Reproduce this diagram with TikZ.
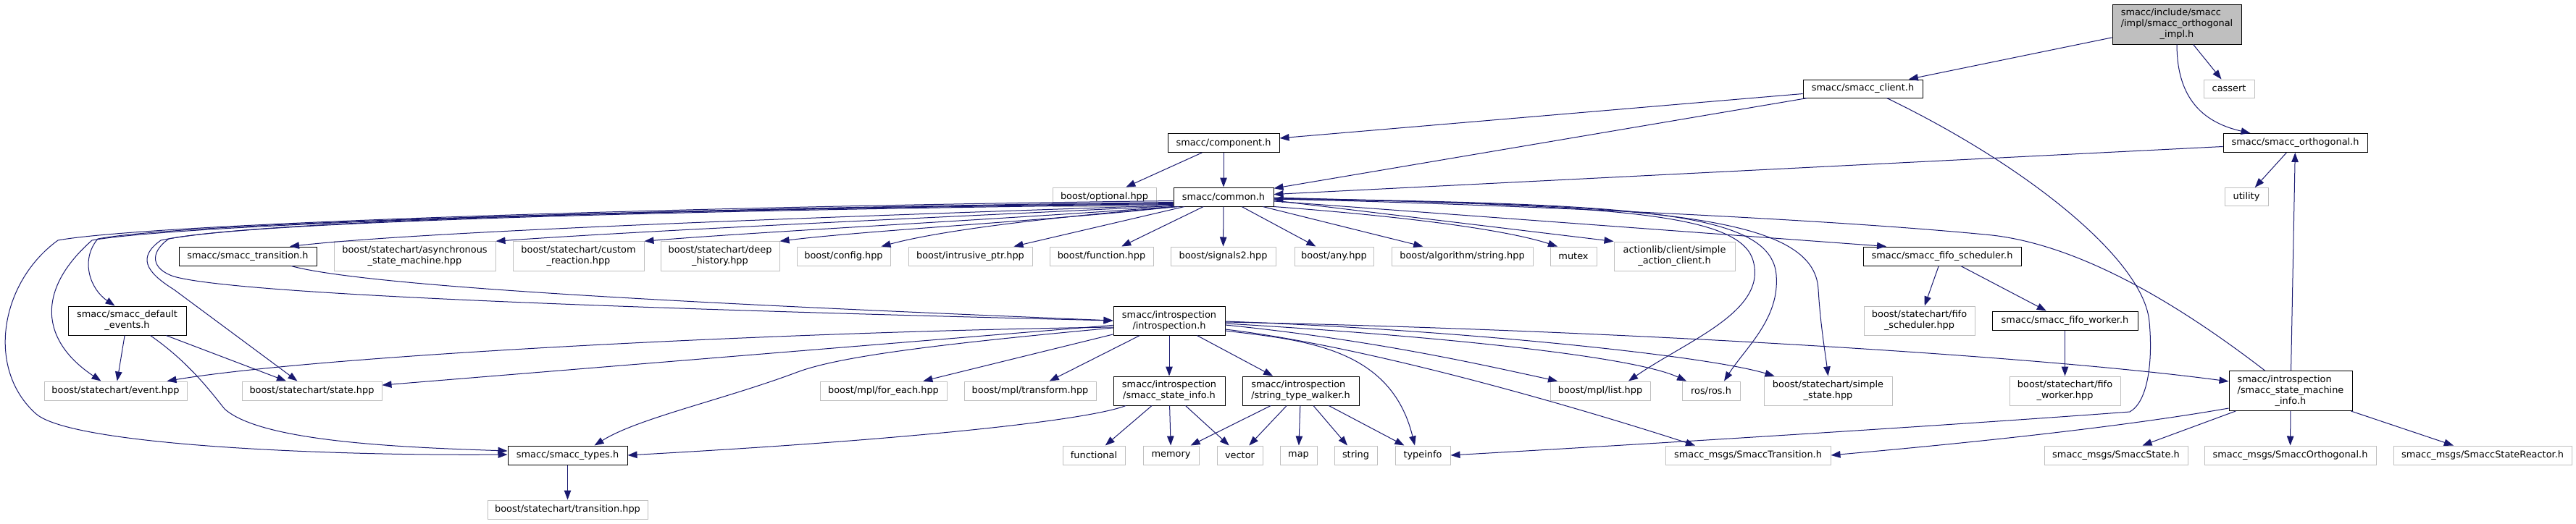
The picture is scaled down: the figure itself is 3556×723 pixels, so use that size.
\documentclass[tikz,border=0pt]{standalone}
\usepackage{fontspec}
\setmainfont{DejaVu Sans}
\usetikzlibrary{arrows.meta}
\definecolor{edgeblue}{RGB}{25,25,112}
\definecolor{lgray}{RGB}{191,191,191}
\begin{document}
\begin{tikzpicture}[x=1pt,y=-1pt,
  nd/.style={rectangle, inner sep=0pt, line width=1pt, fill=white, align=center, font=\fontsize{12.9}{15}\selectfont},
  ext/.style={nd, draw=lgray},
  doc/.style={nd, draw=black},
  rt/.style={nd, draw=black, fill=lgray},
  ln/.style={draw=edgeblue, line width=1pt, -{Triangle[length=13pt,width=9.5pt]}},
]
\path[use as bounding box, fill=white] (0,0) rectangle (3556,723);

% row 0-3
\node[rt,minimum width=178pt,minimum height=55pt] (root) at (3005,33.5) {\begin{tabular}{@{}l@{}}smacc/include/smacc\\/impl/smacc\_orthogonal\\\multicolumn{1}{@{}c@{}}{\_impl.h}\end{tabular}};
\node[ext,minimum width=70pt,minimum height=25pt] (cassert) at (3077,122.5) {cassert};
\node[doc,minimum width=165pt,minimum height=25pt] (client) at (2571.5,122.5) {smacc/smacc\_client.h};
\node[doc,minimum width=154pt,minimum height=26pt] (component) at (1689,197.5) {smacc/component.h};
\node[doc,minimum width=199pt,minimum height=26pt] (orthogonal) at (3168.5,197.5) {smacc/smacc\_orthogonal.h};
\node[ext,minimum width=143pt,minimum height=26pt] (optional) at (1524.5,272) {boost/optional.hpp};
\node[doc,minimum width=138pt,minimum height=26pt] (common) at (1689,272) {smacc/common.h};
\node[ext,minimum width=60pt,minimum height=25pt] (utility) at (3101,272) {utility};

% row 4
\node[doc,minimum width=190pt,minimum height=26pt] (transition) at (342,354) {smacc/smacc\_transition.h};
\node[ext,minimum width=223pt,minimum height=40.5pt] (async) at (572.5,354) {boost/statechart/asynchronous\\\_state\_machine.hpp};
\node[ext,minimum width=181pt,minimum height=40.5pt] (custom) at (798.5,354) {boost/statechart/custom\\\_reaction.hpp};
\node[ext,minimum width=164pt,minimum height=40.5pt] (deep) at (994,354) {boost/statechart/deep\\\_history.hpp};
\node[ext,minimum width=129pt,minimum height=26pt] (config) at (1164.5,354) {boost/config.hpp};
\node[ext,minimum width=171pt,minimum height=26pt] (intrusive) at (1339.5,354) {boost/intrusive\_ptr.hpp};
\node[ext,minimum width=143pt,minimum height=26pt] (function) at (1520.5,354) {boost/function.hpp};
\node[ext,minimum width=145pt,minimum height=26pt] (signals) at (1688.5,354) {boost/signals2.hpp};
\node[ext,minimum width=109pt,minimum height=26pt] (any) at (1841.5,354) {boost/any.hpp};
\node[ext,minimum width=195pt,minimum height=26pt] (algostring) at (2018.5,354) {boost/algorithm/string.hpp};
\node[ext,minimum width=64pt,minimum height=26pt] (mutex) at (2172,354) {mutex};
\node[ext,minimum width=167pt,minimum height=40pt] (actionlib) at (2311.5,354) {actionlib/client/simple\\\_action\_client.h};
\node[doc,minimum width=218pt,minimum height=26pt] (fifosched) at (2681,354) {smacc/smacc\_fifo\_scheduler.h};

% row 5
\node[doc,minimum width=163pt,minimum height=40pt] (defevents) at (175.5,443) {smacc/smacc\_default\\\_events.h};
\node[doc,minimum width=154pt,minimum height=40pt] (introspection) at (1614,443) {smacc/introspection\\/introspection.h};
\node[ext,minimum width=153pt,minimum height=40pt] (fifoschedhpp) at (2649.5,443) {boost/statechart/fifo\\\_scheduler.hpp};
\node[doc,minimum width=201pt,minimum height=26pt] (fifoworker) at (2850.5,443) {smacc/smacc\_fifo\_worker.h};

% row 6
\node[ext,minimum width=197pt,minimum height=26pt] (event) at (159.5,540) {boost/statechart/event.hpp};
\node[ext,minimum width=193pt,minimum height=26pt] (state) at (430.5,540) {boost/statechart/state.hpp};
\node[ext,minimum width=175pt,minimum height=26pt] (foreach) at (1219.5,540) {boost/mpl/for\_each.hpp};
\node[ext,minimum width=182pt,minimum height=26pt] (transform) at (1422,540) {boost/mpl/transform.hpp};
\node[doc,minimum width=154pt,minimum height=40pt] (stateinfo) at (1614,540) {smacc/introspection\\/smacc\_state\_info.h};
\node[doc,minimum width=161pt,minimum height=40pt] (walker) at (1795.5,540) {\begin{tabular}{@{}l@{}}smacc/introspection\\/string\_type\_walker.h\end{tabular}};
\node[ext,minimum width=138pt,minimum height=26pt] (list) at (2209,540) {boost/mpl/list.hpp};
\node[ext,minimum width=80pt,minimum height=26pt] (ros) at (2362,540) {ros/ros.h};
\node[ext,minimum width=177pt,minimum height=40pt] (simplestate) at (2523.5,540) {boost/statechart/simple\\\_state.hpp};
\node[ext,minimum width=153pt,minimum height=40pt] (fifoworkerhpp) at (2850.5,540) {boost/statechart/fifo\\\_worker.hpp};
\node[doc,minimum width=170pt,minimum height=55pt] (smi) at (3162,540) {\begin{tabular}{@{}l@{}}smacc/introspection\\/smacc\_state\_machine\\\multicolumn{1}{@{}c@{}}{\_info.h}\end{tabular}};

% row 7-8
\node[doc,minimum width=165pt,minimum height=26pt] (types) at (783.5,629) {smacc/smacc\_types.h};
\node[ext,minimum width=86pt,minimum height=26pt] (functional) at (1510,629) {functional};
\node[ext,minimum width=77pt,minimum height=26pt] (memory) at (1616.5,629) {memory};
\node[ext,minimum width=63pt,minimum height=26pt] (vector) at (1711.5,629) {vector};
\node[ext,minimum width=51pt,minimum height=26pt] (map) at (1792.5,629) {map};
\node[ext,minimum width=59pt,minimum height=26pt] (string) at (1871.5,629) {string};
\node[ext,minimum width=76pt,minimum height=26pt] (typeinfo) at (1964,629) {typeinfo};
\node[ext,minimum width=228pt,minimum height=26pt] (msgtransition) at (2413,629) {smacc\_msgs/SmaccTransition.h};
\node[ext,minimum width=198pt,minimum height=26pt] (msgstate) at (2921,629) {smacc\_msgs/SmaccState.h};
\node[ext,minimum width=237pt,minimum height=26pt] (msgorth) at (3161.5,629) {smacc\_msgs/SmaccOrthogonal.h};
\node[ext,minimum width=246pt,minimum height=26pt] (msgreactor) at (3427,629) {smacc\_msgs/SmaccStateReactor.h};
\node[ext,minimum width=221pt,minimum height=26pt] (transitionhpp) at (783.5,704) {boost/statechart/transition.hpp};

% ---- edges: root / client / orthogonal
\draw[ln] (root) -- (client);
\draw[ln] (root) -- (cassert);
\draw[ln] (root.south) .. controls (3005,140) and (3045,170) .. ([xshift=-62pt]orthogonal.north);
\draw[ln] (client) -- (component);
\draw[ln] (client) -- (common);
\draw[ln] ([xshift=33pt]client.south) .. controls (2800,230) and (2960,360) .. (2967,445) .. controls (2972,500) and (2965,555) .. (2940,569) .. controls (2700,587) and (2300,612) .. (typeinfo.east);
\draw[ln] (orthogonal) -- (common);
\draw[ln] (orthogonal) -- (utility);
\draw[ln] (component) -- (optional);
\draw[ln] (component) -- (common);

% ---- state machine info
\draw[ln] (smi) -- (orthogonal);
\draw[ln] ([xshift=50pt]smi.north west) .. controls (3020,430) and (2880,340) .. (2750,325) .. controls (2500,300) and (2000,280) .. ([yshift=-3pt]common.east);
\draw[ln] (smi) -- (msgstate);
\draw[ln] (smi) -- (msgorth);
\draw[ln] (smi) -- (msgreactor);
\draw[ln] ([yshift=4pt]smi.south west) .. controls (2900,595) and (2650,618) .. (msgtransition.east);

% ---- common to the right
\draw[ln] (common) -- (signals);
\draw[ln] (common) -- (any);
\draw[ln] (common) -- (algostring);
\draw[ln] (common) -- (function);
\draw[ln] (common.south east) .. controls (1950,300) and (2080,318) .. ([xshift=-22pt]mutex.north);
\draw[ln] ([yshift=-5pt]common.east) -- (actionlib.north west);
\draw[ln] ([yshift=-6pt]common.east) -- ([xshift=-77pt]fifosched.north);
\draw[ln] ([yshift=-1pt]common.east) .. controls (2200,285) and (2400,290) .. (2420,360) .. controls (2440,430) and (2330,470) .. ([xshift=39pt]list.north);
\draw[ln] ([yshift=-2pt]common.east) .. controls (2250,282) and (2445,290) .. (2452,380) .. controls (2457,440) and (2410,480) .. ([xshift=18pt]ros.north);
\draw[ln] ([yshift=-3pt]common.east) .. controls (2300,282) and (2505,300) .. (2510,400) .. controls (2513,450) and (2520,490) .. (simplestate.north);

% ---- common to the left
\draw[ln] ([xshift=-54pt]common.south) -- ([xshift=60pt]intrusive.north);
\draw[ln] ([xshift=8pt]common.south west) .. controls (1450,300) and (1300,318) .. ([xshift=52pt]config.north);
\draw[ln] ([xshift=4pt]common.south west) .. controls (1450,305) and (1200,318) .. (deep.north east);
\draw[ln] (common.south west) .. controls (1400,302) and (1050,320) .. (custom.north east);
\draw[ln] ([yshift=1pt]common.south west) .. controls (1300,300) and (900,318) .. (async.north east);
\draw[ln] ([yshift=2pt]common.south west) .. controls (1200,298) and (600,318) .. ([xshift=58pt]transition.north);
\draw[ln] ([yshift=3pt]common.south west) .. controls (900,291) and (350,307) .. (233,330) .. controls (205,350) and (210,372) .. (240,382) .. controls (320,405) and (800,425) .. (introspection.west);
\draw[ln] ([yshift=4pt]common.south west) .. controls (900,290) and (350,305) .. (222,332) .. controls (190,355) and (200,375) .. (240,400) -- ([xshift=-20pt]state.north);
\draw[ln] ([yshift=5pt]common.south west) .. controls (900,289) and (250,308) .. (135,330) .. controls (110,360) and (125,400) .. ([xshift=-17pt]defevents.north);
\draw[ln] ([yshift=6pt]common.south west) .. controls (900,288) and (250,310) .. (127,332) .. controls (50,400) and (55,470) .. ([xshift=-20pt]event.north);
\draw[ln] ([yshift=8pt]common.south west) .. controls (900,286) and (200,310) .. (80,332) .. controls (0,390) and (-20,510) .. (50,572) .. controls (100,615) and (450,630) .. ([yshift=1pt]types.west);

% ---- transition / default events
\draw[ln] ([xshift=60pt]transition.south) .. controls (520,400) and (1100,425) .. (introspection.west);
\draw[ln] (defevents) -- (event);
\draw[ln] (defevents) -- (state);
\draw[ln] ([xshift=32pt]defevents.south) .. controls (260,500) and (290,540) .. (310,565) .. controls (360,610) and (550,618) .. ([yshift=6pt]types.west);

% ---- introspection
\draw[ln] (introspection) -- (walker);
\draw[ln] (introspection) -- (stateinfo);
\draw[ln] (introspection) -- (transform);
\draw[ln] (introspection) -- (foreach);
\draw[ln] (introspection) -- (state);
\draw[ln] ([yshift=-9pt]introspection.west) .. controls (1100,458) and (450,490) .. ([xshift=-28pt]event.north east);
\draw[ln] ([yshift=-10pt]introspection.west) .. controls (1300,475) and (1160,492) .. (1101,514) .. controls (1000,552) and (880,578) .. ([xshift=37pt]types.north);
\draw[ln] ([yshift=-2pt]introspection.east) .. controls (2200,455) and (2800,490) .. ([yshift=13pt]smi.west);
\draw[ln] ([yshift=-1pt]introspection.east) .. controls (2000,455) and (2350,490) .. ([xshift=-74pt]simplestate.north);
\draw[ln] ([yshift=-4pt]introspection.east) .. controls (1950,462) and (2250,490) .. ([xshift=-34pt]ros.north);
\draw[ln] ([yshift=-6pt]introspection.east) .. controls (1900,470) and (2050,505) .. ([xshift=-59pt]list.north);
\draw[ln] ([yshift=-12pt]introspection.east) .. controls (1900,480) and (2200,570) .. ([xshift=-73pt]msgtransition.north);
\draw[ln] ([yshift=-14pt]introspection.east) .. controls (1800,470) and (1920,480) .. ([xshift=-11pt]typeinfo.north);

% ---- state info / walker
\draw[ln] (stateinfo) -- (functional);
\draw[ln] (stateinfo) -- (memory);
\draw[ln] (stateinfo) -- (vector);
\draw[ln] ([xshift=-60pt]stateinfo.south) .. controls (1510,578) and (1300,605) .. (types.east);
\draw[ln] (walker) -- (memory);
\draw[ln] (walker) -- (vector);
\draw[ln] (walker) -- (map);
\draw[ln] (walker) -- (string);
\draw[ln] (walker) -- (typeinfo);

% ---- misc
\draw[ln] (types) -- (transitionhpp);
\draw[ln] (fifosched) -- (fifoschedhpp);
\draw[ln] (fifosched) -- (fifoworker);
\draw[ln] (fifoworker) -- (fifoworkerhpp);
\end{tikzpicture}
\end{document}
